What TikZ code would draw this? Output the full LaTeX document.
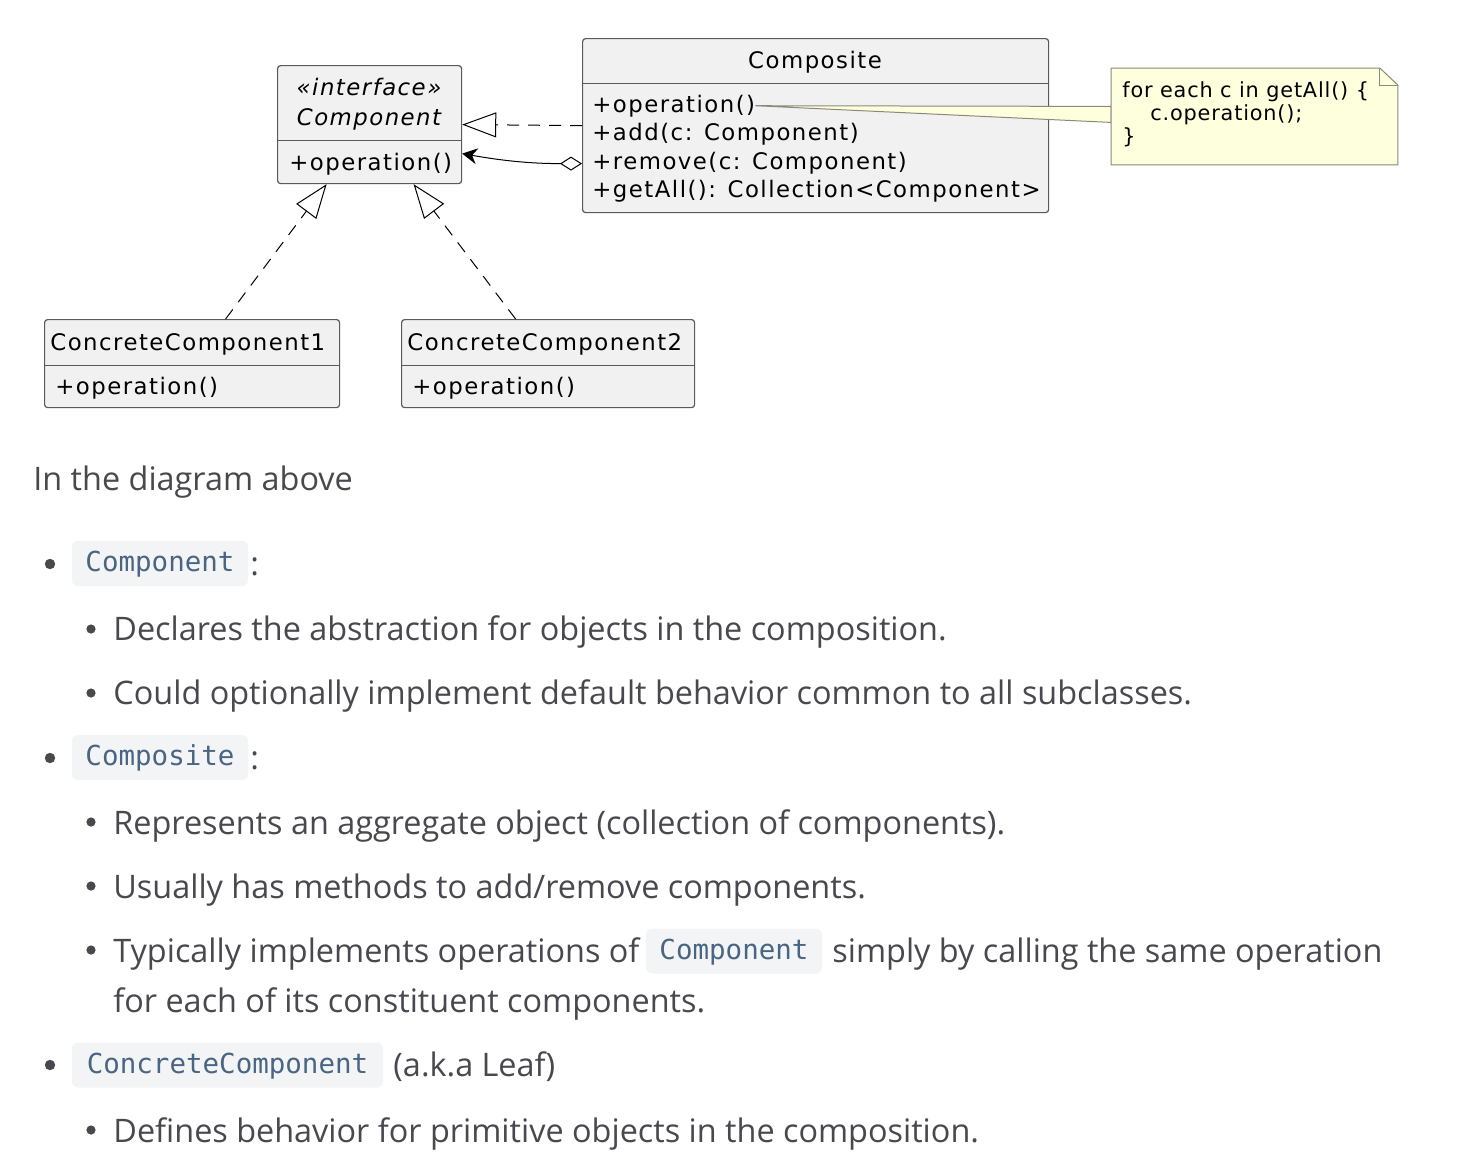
\documentclass[tikz,border=0pt]{standalone}
\usepackage{fontspec}
\setmainfont{Open Sans}
\newfontfamily\umlfont[LetterSpace=6.5]{DejaVu Sans}
\newfontfamily\notefont[LetterSpace=4]{DejaVu Sans}
\newfontfamily\codefont{DejaVu Sans Mono}
\usetikzlibrary{arrows.meta, positioning}
\definecolor{umlfill}{HTML}{F1F1F1}
\definecolor{umlline}{HTML}{5A5A5A}
\definecolor{notefill}{HTML}{FEFFDD}
\definecolor{noteline}{HTML}{8A8A7A}
\definecolor{bodygray}{RGB}{72,72,78}
\definecolor{codeblue}{HTML}{4A6583}
\definecolor{codebg}{HTML}{F3F4F5}

\tikzset{
  umlbox/.style={draw=umlline, fill=umlfill, line width=0.6pt, rounded corners=1.5pt, anchor=north west, inner sep=0pt},
  umldiv/.style={draw=umlline, line width=0.5pt},
  umltext/.style={font=\umlfont\fontsize{11.4pt}{13pt}\selectfont, anchor=base west, inner sep=0pt},
  umltitle/.style={umltext, anchor=base},
  notetext/.style={font=\notefont\fontsize{10.4pt}{12pt}\selectfont, anchor=base west, inner sep=0pt},
  realize/.style={line width=0.5pt, dash pattern=on 6pt off 4.5pt, -{Triangle[open, length=17pt, width=12.5pt]}},
  aggregate/.style={line width=0.5pt, {Diamond[open, length=11pt, width=7pt]}-{Stealth[length=7.5pt, width=8pt, inset=2.5pt]}},
  bodytext/.style={font=\fontsize{16.2pt}{20pt}\selectfont, text=bodygray, anchor=base west, inner sep=0pt},
  codebox/.style={fill=codebg, rounded corners=3pt, text=codeblue, font=\codefont\fontsize{13.75pt}{16pt}\selectfont, minimum height=22.5pt, text height=1.0em, text depth=0.2em, inner xsep=0pt},
  dotone/.style={fill=bodygray},
}

\begin{document}
\begin{tikzpicture}[x=0.5pt, y=-0.5pt]
  \useasboundingbox[fill=white] (0,0) rectangle (1480,1164);

  % Component interface
  \node[umlbox, minimum width=92pt, minimum height=59pt] (comp) at (277,65) {};
  \draw[umldiv] (comp.west |- 0,140) -- (comp.east |- 0,140);
  \node[umltitle] (compst) at (369,95) {\itshape «interface»};
  \node[umltitle] (compname) at (369,125) {\itshape Component};
  \node[umltext] (compop) at (289,170) {+operation()};

  % Composite class
  \node[umlbox, minimum width=233pt, minimum height=87pt] (compo) at (582,38) {};
  \draw[umldiv] (compo.west |- 0,83) -- (compo.east |- 0,83);
  \node[umltitle] (componame) at (815,68) {Composite};
  \node[umltext] (compoop) at (592,112) {+operation()};
  \node[umltext] (compoadd) at (592,140.5) {+add(c: Component)};
  \node[umltext] (comporem) at (592,169) {+remove(c: Component)};
  \node[umltext] (compoget) at (592,197.5) {+getAll(): Collection<Component>};

  % leaves
  \node[umlbox, minimum width=147.5pt, minimum height=44pt] (cc1) at (44,319) {};
  \draw[umldiv] (cc1.west |- 0,365) -- (cc1.east |- 0,365);
  \node[umltext] (cc1name) at (50,350) {ConcreteComponent1};
  \node[umltext] (cc1op) at (55,394) {+operation()};

  \node[umlbox, minimum width=146.5pt, minimum height=44pt] (cc2) at (401,319) {};
  \draw[umldiv] (cc2.west |- 0,365) -- (cc2.east |- 0,365);
  \node[umltext] (cc2name) at (407,350) {ConcreteComponent2};
  \node[umltext] (cc2op) at (412,394) {+operation()};

  % note
  \node[minimum width=143pt, minimum height=48pt, anchor=north west, inner sep=0pt] (note) at (1111,68) {};
  \filldraw[fill=notefill, draw=noteline, line width=0.5pt] (compoop.east) -- ([yshift=5pt]note.west) -- ([yshift=-3pt]note.west) -- cycle;
  \filldraw[fill=notefill, draw=noteline, line width=0.5pt] (note.north west) -- ([xshift=-9pt]note.north east) -- ([yshift=-8.5pt]note.north east) -- (note.south east) -- (note.south west) -- cycle;
  \draw[noteline, line width=0.5pt] ([xshift=-9pt]note.north east) -- ++(0,17) -- ([yshift=-8.5pt]note.north east);
  \node[notetext] (note1) at (1122,97) {for each c in getAll() \{};
  \node[notetext] (note2) at (1150,120) {c.operation();};
  \node[notetext] (note3) at (1122,143) {\}};

  % relations
  \draw[realize] (compo.west) -- (comp.east);
  \draw[aggregate] ([yshift=-19pt]compo.west) to[out=180, in=-10] ([yshift=-14.5pt]comp.east);
  \draw[realize] ([xshift=16.75pt]cc1.north) -- ([xshift=-21.5pt]comp.south);
  \draw[realize] ([xshift=-16.25pt]cc2.north) -- ([xshift=22pt]comp.south);

  % text below
  \node[bodytext] (intro) at (33,490) {In the diagram above};

  \fill[dotone] (50,564) circle (2.6pt);
  \node[codebox, minimum width=88pt] (kcomp) at (160,563.5) {Component};
  \node[bodytext] (kcompc) at (250,575) {:};
  \fill[dotone] (91,629) circle (2.3pt);
  \node[bodytext] (t1) at (113,640) {Declares the abstraction for objects in the composition.};
  \fill[dotone] (91,693) circle (2.3pt);
  \node[bodytext] (t2) at (113,704) {Could optionally implement default behavior common to all subclasses.};

  \fill[dotone] (50,758) circle (2.6pt);
  \node[codebox, minimum width=88pt] (kcompo) at (160,757.5) {Composite};
  \node[bodytext] (kcompoc) at (250,769) {:};
  \fill[dotone] (91,822) circle (2.3pt);
  \node[bodytext] (t3) at (113,834) {Represents an aggregate object (collection of components).};
  \fill[dotone] (91,886) circle (2.3pt);
  \node[bodytext] (t4) at (113,898) {Usually has methods to add/remove components.};
  \fill[dotone] (91,950) circle (2.3pt);
  \node[bodytext] (t5) at (113,962) {Typically implements operations of};
  \node[codebox, minimum width=88pt] (kinline) at (734,951) {Component};
  \node[bodytext] (t6) at (832,962) {simply by calling the same operation};
  \node[bodytext] (t7) at (113,1012) {for each of its constituent components.};

  \fill[dotone] (50,1065) circle (2.6pt);
  \node[codebox, minimum width=155.5pt] (kleaf) at (227.5,1065) {ConcreteComponent};
  \node[bodytext] (kleaft) at (393,1076) {(a.k.a Leaf)};
  \fill[dotone] (91,1130) circle (2.3pt);
  \node[bodytext] (t8) at (113,1142) {Defines behavior for primitive objects in the composition.};
\end{tikzpicture}
\end{document}
